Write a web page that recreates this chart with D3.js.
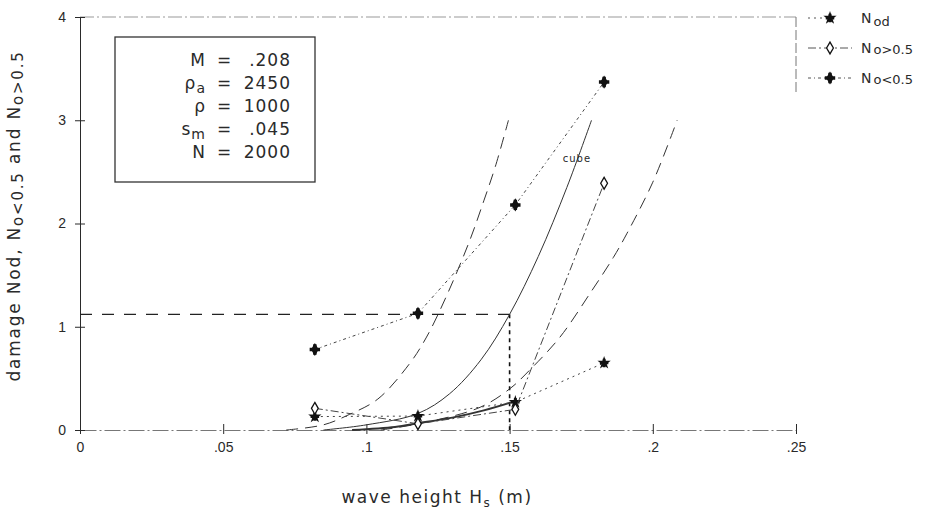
<!DOCTYPE html>
<html>
<head>
<meta charset="utf-8">
<script src="https://cdn.jsdelivr.net/npm/d3@7"></script>
<style>
  body { margin: 0; background: #fff; }
  svg { font-family: "DejaVu Sans", sans-serif; }
</style>
</head>
<body>
<div id="chart"></div>
<script>
// wave heights of the tests (m)
var waveHeights = [0.082, 0.118, 0.152, 0.183];
// measured damage
var nod     = [0.13, 0.135, 0.27, 0.65];
var noAbove = [0.21, 0.06, 0.20, 2.39];
var noBelow = [0.78, 1.13, 2.18, 3.37];

// fitted curves [H, N]
var curveLeft  = [[0.072,0],[0.085,0.05],[0.094,0.15],[0.104,0.3],[0.115,0.64],[0.121,0.9],[0.128,1.3],[0.136,1.83],[0.141,2.22],[0.145,2.55],[0.1496,3.0]];
var curveCube  = [[0.085,0],[0.1,0.05],[0.118,0.16],[0.129,0.35],[0.14,0.68],[0.15,1.12],[0.16,1.68],[0.17,2.35],[0.1786,3.0]];
var curveLow   = [[0.095,0],[0.11,0.03],[0.118,0.065],[0.13,0.12],[0.141,0.19],[0.152,0.28]];
var curveRight = [[0.105,0],[0.12,0.07],[0.1397,0.22],[0.1501,0.40],[0.157,0.58],[0.1676,0.9],[0.178,1.32],[0.1862,1.67],[0.1909,1.90],[0.2,2.4],[0.2085,3.0]];

var refH = 0.15, refN = 1.12;

var xTicks = [0, 0.05, 0.1, 0.15, 0.2, 0.25];
var yTicks = [0, 1, 2, 3, 4];

var infoRows = [
  {name: "M", sub: "", val: ".208"},
  {name: "ρ", sub: "a", val: "2450"},
  {name: "ρ", sub: "", val: "1000"},
  {name: "s", sub: "m", val: ".045"},
  {name: "N", sub: "", val: "2000"}
];

var W = 944, H = 526;
var ink = "#2a2a2a";

var svg = d3.select("#chart").append("svg")
  .attr("width", W).attr("height", H);

var x = d3.scaleLinear().domain([0, 0.25]).range([80, 796]);
var y = d3.scaleLinear().domain([0, 4]).range([430, 17]);

var fmt = function(d){ return d === 0 ? "0" : String(d).replace(/^0/, ""); };

// frame: top dashed, right partial
svg.append("line")
  .attr("x1", x(0)).attr("x2", x(0.25)).attr("y1", y(4)).attr("y2", y(4))
  .attr("stroke", "#999").attr("stroke-dasharray", "14,3,2,3");
svg.append("line")
  .attr("x1", x(0.25)).attr("x2", x(0.25)).attr("y1", y(4)).attr("y2", 92)
  .attr("stroke", "#777").attr("stroke-dasharray", "10,3");

// axes
var xAxis = d3.axisBottom(x).tickValues(xTicks).tickFormat(fmt).tickSize(0).tickPadding(12);
var gx = svg.append("g").attr("transform", "translate(0," + y(0) + ")").call(xAxis);
gx.select(".domain").attr("stroke", "#777").attr("stroke-dasharray", "16,3,2,3");
gx.selectAll(".tick").append("line").attr("y1", -6).attr("y2", 4).attr("stroke", ink);
gx.selectAll("text").attr("font-size", 14).attr("fill", ink);

var yAxis = d3.axisLeft(y).tickValues(yTicks).tickFormat(fmt).tickSize(0).tickPadding(14);
var gy = svg.append("g").attr("transform", "translate(" + x(0) + ",0)").call(yAxis);
gy.select(".domain").attr("stroke", ink);
gy.selectAll(".tick").append("line").attr("x1", -5).attr("x2", 5).attr("stroke", ink);
gy.selectAll("text").attr("font-size", 14).attr("fill", ink);

// reference lines
svg.append("line")
  .attr("x1", x(0)).attr("x2", x(refH)).attr("y1", y(refN)).attr("y2", y(refN))
  .attr("stroke", "#222").attr("stroke-width", 1.2).attr("stroke-dasharray", "12,10");
svg.append("line")
  .attr("x1", x(refH)).attr("x2", x(refH)).attr("y1", y(refN)).attr("y2", y(0))
  .attr("stroke", "#111").attr("stroke-width", 1.6).attr("stroke-dasharray", "4,4");

// fitted curves
var cl = d3.line().x(function(d){ return x(d[0]); }).y(function(d){ return y(d[1]); }).curve(d3.curveCatmullRom);
[[curveLeft, "12,7", 1], [curveRight, "12,7", 1], [curveCube, null, 1], [curveLow, null, 2]].forEach(function(c){
  svg.append("path").attr("d", cl(c[0])).attr("fill", "none")
    .attr("stroke", "#333").attr("stroke-width", c[2])
    .attr("stroke-dasharray", c[1]);
});
svg.append("text").attr("x", x(0.1735)).attr("y", y(2.6)).attr("text-anchor", "middle")
  .attr("font-size", 10).attr("fill", ink).attr("letter-spacing", 1).text("cube");

// measured series
var series = [
  {name: "N", sub: "od", vals: nod, dash: "2,4", marker: "nod", lx2: 822},
  {name: "N", sub: "o>0.5", vals: noAbove, dash: "8,3,2,3", marker: "above", lx2: 852},
  {name: "N", sub: "o<0.5", vals: noBelow, dash: "3,3,1,3", marker: "below", lx2: 852}
];

var sl = d3.line().x(function(d){ return x(d[0]); }).y(function(d){ return y(d[1]); });

function drawMarker(g, kind) {
  if (kind === "nod") {
    g.append("path").attr("d", d3.symbol(d3.symbolStar, 55)()).attr("fill", "#111");
    g.append("path").attr("d", d3.symbol(d3.symbolCross, 40)()).attr("fill", "#111");
  } else if (kind === "above") {
    g.append("path").attr("d", d3.symbol(d3.symbolDiamond, 40)())
      .attr("fill", "#fff").attr("stroke", "#111").attr("stroke-width", 1.3);
  } else {
    g.append("path").attr("d", d3.symbol(d3.symbolDiamond, 50)()).attr("fill", "#111");
    g.append("path").attr("d", d3.symbol(d3.symbolCross, 60)()).attr("fill", "#111");
  }
}

series.forEach(function(s){
  var pts = waveHeights.map(function(h, i){ return [h, s.vals[i]]; });
  svg.append("path").attr("d", sl(pts)).attr("fill", "none")
    .attr("stroke", "#444").attr("stroke-width", 1).attr("stroke-dasharray", s.dash);
  pts.forEach(function(p){
    var g = svg.append("g").attr("transform", "translate(" + x(p[0]) + "," + y(p[1]) + ")");
    drawMarker(g, s.marker);
  });
});

// legend
var lg = svg.append("g");
series.forEach(function(s, i){
  var yy = 18 + i * 30;
  lg.append("line").attr("x1", 808).attr("x2", s.lx2).attr("y1", yy).attr("y2", yy)
    .attr("stroke", "#555").attr("stroke-dasharray", s.dash);
  drawMarker(lg.append("g").attr("transform", "translate(830," + yy + ")"), s.marker);
  var t = lg.append("text").attr("x", 861).attr("y", yy + 5).attr("font-size", 14).attr("fill", ink);
  t.append("tspan").text(s.name);
  t.append("tspan").attr("font-size", 13).attr("dy", s.sub === "od" ? 3 : 1).attr("dx", 2).text(s.sub);
});

// info box
svg.append("rect").attr("x", 115).attr("y", 37).attr("width", 200).attr("height", 145)
  .attr("fill", "#fff").attr("stroke", "#333").attr("stroke-width", 1.3);
infoRows.forEach(function(r, i){
  var yy = 66 + i * 23;
  var t = svg.append("text").attr("x", 205).attr("y", yy).attr("text-anchor", "end")
    .attr("font-size", 17).attr("fill", ink);
  t.append("tspan").text(r.name);
  if (r.sub) t.append("tspan").attr("font-size", 14).attr("dy", 4).attr("dx", 1).text(r.sub);
  svg.append("text").attr("x", 224).attr("y", yy).attr("text-anchor", "middle")
    .attr("font-size", 17).attr("fill", ink).text("=");
  svg.append("text").attr("x", 291).attr("y", yy).attr("text-anchor", "end")
    .attr("font-size", 17).attr("fill", ink).attr("letter-spacing", 1).text(r.val);
});

// axis titles
var xt = svg.append("text").attr("x", 437).attr("y", 503).attr("text-anchor", "middle")
  .attr("font-size", 17).attr("fill", ink).attr("letter-spacing", 1.5);
xt.append("tspan").text("wave height H");
xt.append("tspan").attr("font-size", 12).attr("dy", 4).text("s");
xt.append("tspan").attr("dy", -4).text("  (m)");

var yt = svg.append("text").attr("transform", "translate(20,216) rotate(-90)")
  .attr("text-anchor", "middle").attr("font-size", 17).attr("fill", ink).attr("letter-spacing", 1.8);
yt.append("tspan").text("damage Nod,  N");
yt.append("tspan").attr("font-size", 15).attr("dy", 3).text("o<0.5");
yt.append("tspan").attr("dy", -3).text(" and N");
yt.append("tspan").attr("font-size", 15).attr("dy", 3).text("o>0.5");
</script>
</body>
</html>
